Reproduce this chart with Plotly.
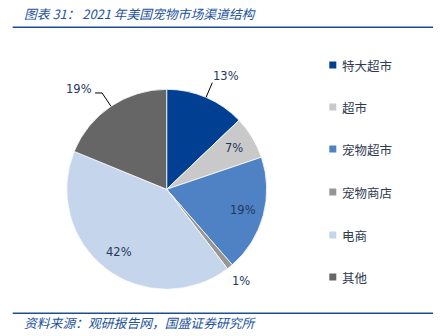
import math
import plotly.graph_objects as go

# Channel shares of the 2021 US pet market (%)
channels = ["特大超市", "超市", "宠物超市", "宠物商店", "电商", "其他"]
shares = [13, 7, 19, 1, 42, 19]
colors = ["#013F93", "#C9C9C9", "#4E82C4", "#969696", "#C4D5EC", "#666666"]
# where each percentage label sits relative to its slice
label_modes = ["leader", "inside", "inside", "outside", "inside", "leader"]

title_text = "图表 31： 2021 年美国宠物市场渠道结构"
source_text = "资料来源：观研报告网，国盛证券研究所"

W, H = 440, 336
cx, cy, R = 166.7, 189.3, 100.0  # pie centre and radius in pixels

def px(x):
    return x / W

def py(y):
    return 1 - y / H

fig = go.Figure(go.Pie(
    labels=channels,
    values=shares,
    marker=dict(colors=colors, line=dict(color="white", width=0.8)),
    sort=False,
    direction="clockwise",
    rotation=0,
    textinfo="none",
    hoverinfo="label+percent",
    showlegend=False,
    domain=dict(x=[px(cx - R), px(cx + R)], y=[py(cy + R), py(cy - R)]),
))

label_font = dict(family="DejaVu Sans", size=11.5, color="#24375A")
annotations = []
shapes = []

total = sum(shares)
cum = 0.0
for name, v, mode in zip(channels, shares, label_modes):
    mid = math.radians((cum + v / 2) / total * 360)
    cum += v
    s, c = math.sin(mid), math.cos(mid)
    txt = f"{v}%"
    if mode == "inside":
        r = 0.79 * R
        annotations.append(dict(x=px(cx + r * s), y=py(cy - r * c), text=txt,
                                showarrow=False, xanchor="center", yanchor="middle",
                                font=label_font))
    elif mode == "outside":
        r = 1.18 * R
        annotations.append(dict(x=px(cx + r * s), y=py(cy - r * c), text=txt,
                                showarrow=False, xanchor="center", yanchor="middle",
                                font=label_font))
    else:
        x0, y0 = cx + R * s, cy - R * c
        x1, y1 = cx + 1.16 * R * s, cy - 1.16 * R * c
        shapes.append(dict(type="line", xref="paper", yref="paper",
                           x0=px(x0), y0=py(y0), x1=px(x1), y1=py(y1),
                           line=dict(color="#000000", width=1)))
        if s >= 0:
            annotations.append(dict(x=px(x1 - 1), y=py(y1 + 2), text=txt,
                                    showarrow=False, xanchor="left", yanchor="bottom",
                                    font=label_font))
        else:
            x2 = x1 - 7
            shapes.append(dict(type="line", xref="paper", yref="paper",
                               x0=px(x1), y0=py(y1), x1=px(x2), y1=py(y1),
                               line=dict(color="#000000", width=1)))
            annotations.append(dict(x=px(x2 - 1), y=py(y1 - 4), text=txt,
                                    showarrow=False, xanchor="right", yanchor="middle",
                                    font=label_font))

# legend drawn as squares with labels
leg_y = [65, 107, 149, 192, 235, 277]
for name, col, yy in zip(channels, colors, leg_y):
    shapes.append(dict(type="rect", xref="paper", yref="paper",
                       x0=px(329.3), x1=px(336.3), y0=py(yy - 3.5), y1=py(yy + 3.5),
                       fillcolor=col, line=dict(width=0)))
    annotations.append(dict(x=px(340), y=py(yy), text=name, showarrow=False,
                            xanchor="left", yanchor="middle",
                            font=dict(family="Noto Sans CJK SC", size=12.5, color="#2E3A50")))

# header and footer rules
for yy in (27.3, 313.3):
    shapes.append(dict(type="line", xref="paper", yref="paper",
                       x0=px(12.7), x1=px(433), y0=py(yy), y1=py(yy),
                       line=dict(color="#1E4C98", width=1.6)))

annotations.append(dict(x=px(22), y=py(14), text=f"<i>{title_text}</i>", showarrow=False,
                        xanchor="left", yanchor="middle",
                        font=dict(family="Noto Sans CJK SC", size=12.8, color="#22529E")))
annotations.append(dict(x=px(22), y=py(322.7), text=f"<i>{source_text}</i>", showarrow=False,
                        xanchor="left", yanchor="middle",
                        font=dict(family="Noto Sans CJK SC", size=12.8, color="#22529E")))

fig.update_layout(
    width=W, height=H,
    margin=dict(l=0, r=0, t=0, b=0),
    paper_bgcolor="white",
    plot_bgcolor="white",
    annotations=annotations,
    shapes=shapes,
)

fig.write_html("out.html")
